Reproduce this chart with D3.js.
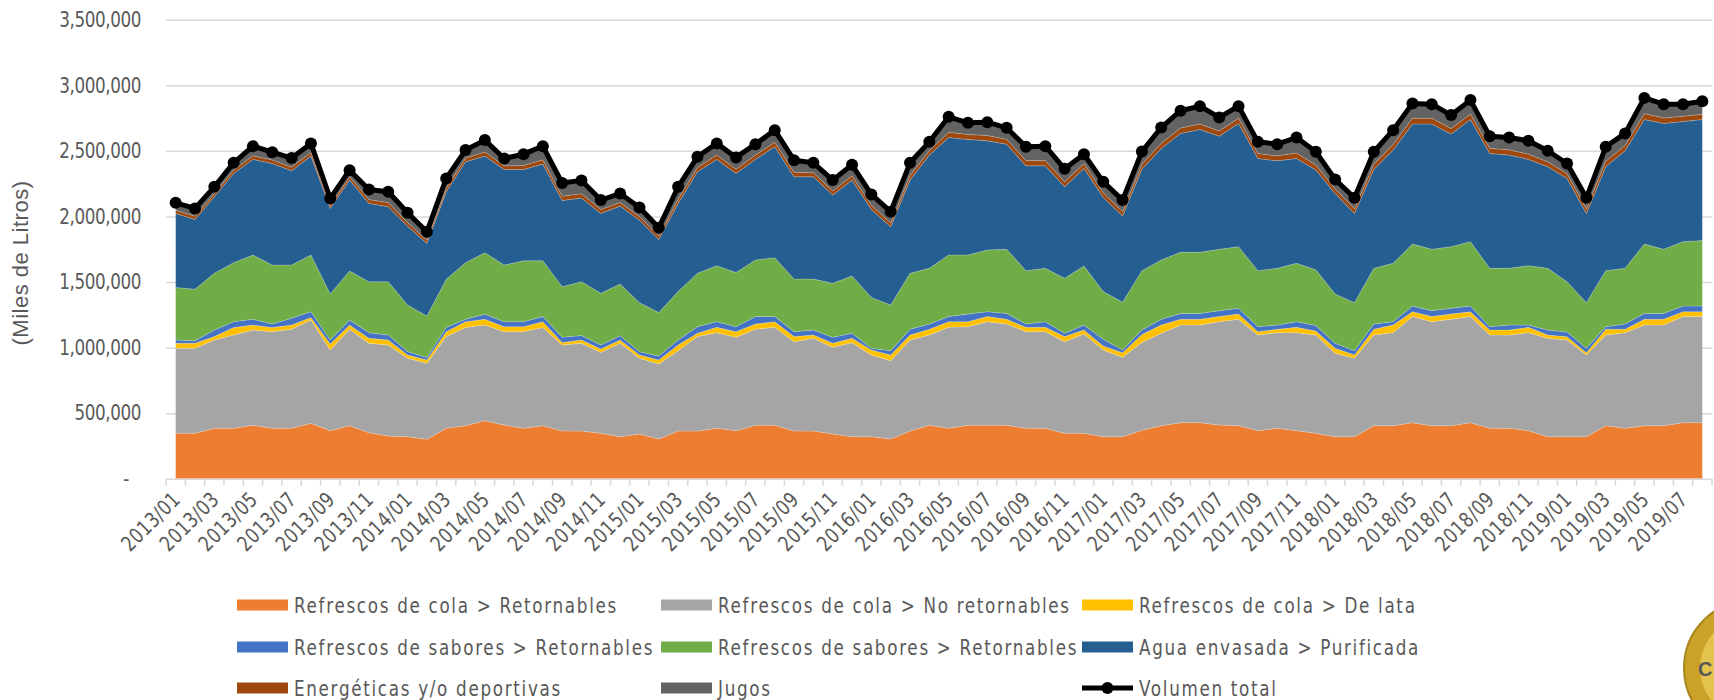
<!DOCTYPE html>
<html>
<head>
<meta charset="utf-8">
<script src="https://cdn.jsdelivr.net/npm/d3@7"></script>
<style>
  body { margin: 0; background: #fff; }
  svg { display: block; }
  text { font-family: "Liberation Sans Narrow", "DejaVu Sans", sans-serif; fill: #595959; }
</style>
</head>
<body>
<svg id="chart" width="1714" height="700"></svg>
<script>
// categories (monthly, 2013/01 .. 2019/08)
const months = [
  "2013/01","2013/02","2013/03","2013/04","2013/05","2013/06","2013/07","2013/08","2013/09","2013/10","2013/11","2013/12",
  "2014/01","2014/02","2014/03","2014/04","2014/05","2014/06","2014/07","2014/08","2014/09","2014/10","2014/11","2014/12",
  "2015/01","2015/02","2015/03","2015/04","2015/05","2015/06","2015/07","2015/08","2015/09","2015/10","2015/11","2015/12",
  "2016/01","2016/02","2016/03","2016/04","2016/05","2016/06","2016/07","2016/08","2016/09","2016/10","2016/11","2016/12",
  "2017/01","2017/02","2017/03","2017/04","2017/05","2017/06","2017/07","2017/08","2017/09","2017/10","2017/11","2017/12",
  "2018/01","2018/02","2018/03","2018/04","2018/05","2018/06","2018/07","2018/08","2018/09","2018/10","2018/11","2018/12",
  "2019/01","2019/02","2019/03","2019/04","2019/05","2019/06","2019/07","2019/08"
];

// series values, in thousands of "miles de litros"
const colaRetornables = [
  347,347,385,385,408,385,385,423,367,405,352,326,
  321,301,385,405,443,410,385,405,365,364,347,321,
  342,303,364,364,385,367,408,408,364,364,342,321,
  321,303,364,408,385,408,408,408,385,385,347,347,
  321,321,370,405,428,428,410,405,367,385,367,347,
  321,321,405,405,428,405,405,428,385,385,367,321,
  321,321,405,385,405,405,428,428
];
const colaNoRetornables = [
  648,648,673,712,726,737,755,788,615,735,681,694,
  598,579,699,749,729,712,737,749,655,669,616,712,
  577,572,613,720,729,712,732,747,681,707,660,717,
  623,597,694,688,770,752,790,772,737,737,698,757,
  661,605,670,704,744,744,788,811,729,729,747,749,
  636,598,691,709,809,793,811,809,711,711,747,750,
  737,623,691,729,767,767,809,809
];
const colaLata = [
  38,38,26,57,38,32,32,19,46,32,38,38,
  25,26,38,44,44,38,38,44,20,25,27,25,
  25,31,43,25,41,43,40,43,39,25,31,33,
  38,44,38,44,43,38,39,36,33,33,39,30,
  30,35,60,63,44,44,39,40,26,26,41,30,
  38,25,44,58,37,39,40,37,38,38,41,25,
  25,17,44,26,44,44,37,37
];
const saboresRetornables = [
  25,19,50,44,44,27,52,44,30,39,43,39,
  26,19,32,18,39,38,38,39,40,34,30,33,
  25,30,38,51,43,38,57,39,38,38,46,38,
  13,33,44,40,39,58,37,45,25,43,25,38,
  51,21,35,44,45,45,45,44,38,32,43,42,
  38,33,40,26,43,45,44,43,26,38,17,38,
  36,34,20,40,45,45,43,43
];
const saboresRetornables2 = [
  401,393,433,450,490,449,406,432,351,373,389,406,
  355,316,367,432,469,432,464,425,385,411,394,394,
  374,331,369,407,427,412,431,449,401,389,411,437,
  388,348,427,425,469,450,471,489,407,407,419,450,
  364,363,452,452,466,466,468,470,427,433,445,425,
  376,366,425,445,473,468,470,491,445,433,453,471,
  384,348,427,425,529,489,491,499
];
const aguaPurificada = [
  564,532,583,680,729,774,718,754,652,693,596,571,
  601,553,667,769,736,728,696,737,657,637,609,594,
  629,558,672,774,810,756,767,845,779,779,673,731,
  670,596,710,863,896,881,832,801,799,781,698,744,
  718,658,773,850,906,936,862,939,855,819,799,761,
  766,680,753,863,914,954,858,931,875,863,810,774,
  787,680,792,896,949,959,916,923
];
const energeticas = [
  25,25,24,25,28,27,27,28,22,26,30,32,
  28,24,28,27,32,28,30,33,33,33,30,28,
  27,25,32,32,33,32,33,35,35,32,32,33,
  32,30,35,33,40,38,40,38,40,40,38,35,
  35,33,38,40,42,42,40,40,38,38,42,38,
  35,35,40,42,45,45,42,42,40,40,40,38,
  36,36,42,40,45,42,40,40
];
const jugos = [
  56,59,52,56,73,59,70,69,54,50,77,82,
  74,65,74,62,90,56,87,104,100,102,72,68,
  70,64,95,82,89,90,83,92,92,75,82,84,
  83,85,97,68,118,89,102,87,105,110,99,74,
  84,89,97,120,131,136,103,92,89,89,118,89,
  72,84,95,110,113,107,103,106,92,94,102,84,
  78,83,110,92,120,105,92,100
];
const volumenTotal = [
  2104,2061,2226,2409,2536,2490,2445,2557,2137,2353,2206,2188,
  2028,1883,2290,2506,2582,2442,2475,2536,2255,2275,2125,2175,
  2069,1914,2226,2455,2557,2450,2551,2658,2429,2409,2277,2394,
  2168,2036,2409,2569,2760,2714,2719,2676,2531,2536,2363,2475,
  2264,2125,2495,2678,2806,2841,2755,2841,2569,2551,2602,2493,
  2282,2142,2493,2658,2862,2856,2773,2887,2612,2602,2577,2501,
  2404,2142,2531,2633,2904,2856,2856,2879
];

const seriesNames = [
  "Refrescos de cola > Retornables",
  "Refrescos de cola > No retornables",
  "Refrescos de cola > De lata",
  "Refrescos de sabores > Retornables",
  "Refrescos de sabores > Retornables",
  "Agua envasada > Purificada",
  "Energéticas y/o deportivas",
  "Jugos"
];
const seriesData = [colaRetornables, colaNoRetornables, colaLata, saboresRetornables,
  saboresRetornables2, aguaPurificada, energeticas, jugos];
const seriesColors = ["#ED7D31", "#A5A5A5", "#FFC000", "#4472C4", "#70AD47", "#255E91", "#9E480E", "#636363"];
const totalName = "Volumen total";
const yTickValues = [0, 500000, 1000000, 1500000, 2000000, 2500000, 3000000, 3500000];
const UNIT = 1000;

const svg = d3.select('#chart');
const plotLeft = 166, plotRight = 1712, plotTop = 19.7, plotBottom = 478.8;
const SQUEEZE = 0.8;   // narrow lettering, like the original condensed font

// squeeze text horizontally, keeping its x anchor in place
function condense(sel) {
  sel.each(function() {
    let t = d3.select(this);
    let x0 = +t.attr('x') || 0;
    t.attr('x', x0 / SQUEEZE);
    t.attr('transform', (t.attr('transform') || '') + ` scale(${SQUEEZE},1)`);
  });
}

let x = d3.scaleBand().domain(months).range([plotLeft, plotRight]);
let y = d3.scaleLinear().domain([0, 3500000]).range([plotBottom, plotTop]);
let cx = m => x(m) + x.bandwidth() / 2;

// gridlines + y labels
let yAxis = svg.append('g')
  .attr('transform', `translate(${plotLeft},0)`)
  .call(d3.axisLeft(y)
    .tickValues(yTickValues)
    .tickSize(-(plotRight - plotLeft))
    .tickPadding(25)
    .tickFormat(d => d === 0 ? '-' : d3.format(',')(d)));
yAxis.select('.domain').remove();
yAxis.selectAll('.tick line')
  .attr('stroke', '#d9d9d9')
  .attr('stroke-width', 1.5)
  .filter(d => d === 0).remove();
yAxis.selectAll('.tick text')
  .style('font-size', '21px')
  .style('letter-spacing', '-0.5px')
  .attr('fill', '#595959')
  .call(condense)
  .filter(d => d === 0).attr('dx', -15);

// stacked areas
let rows = months.map((m, i) => {
  let r = { month: m };
  seriesData.forEach((arr, k) => { r['s' + k] = arr[i] * UNIT; });
  return r;
});
let stacked = d3.stack().keys(seriesData.map((s, k) => 's' + k))(rows);

let area = d3.area()
  .x(d => cx(d.data.month))
  .y0(d => y(d[0]))
  .y1(d => y(d[1]));

svg.append('g').selectAll('path')
  .data(stacked)
  .enter().append('path')
  .attr('d', area)
  .attr('fill', (d, i) => seriesColors[i])
  .attr('stroke', '#ffffff')
  .attr('stroke-opacity', 0.3)
  .attr('stroke-width', 0.6);

// category axis
let xAxis = svg.append('g')
  .attr('transform', `translate(0,${plotBottom})`)
  .call(d3.axisBottom(x)
    .tickValues(months.filter((m, i) => i % 2 === 0))
    .tickSize(0)
    .tickSizeOuter(0));
xAxis.select('.domain')
  .attr('stroke', '#d9d9d9')
  .attr('stroke-width', 1.5);
xAxis.selectAll('.tick text')
  .attr('x', 0).attr('y', 0).attr('dy', null)
  .attr('text-anchor', 'end')
  .attr('transform', 'translate(6,22) rotate(-45)')
  .attr('fill', '#595959')
  .style('font-size', '21px')
  .style('letter-spacing', '0.6px')
  .call(condense);

// category tick marks between bands
svg.append('g').selectAll('line')
  .data(months.map(m => x(m)).concat([plotRight]))
  .enter().append('line')
  .attr('x1', d => d).attr('x2', d => d)
  .attr('y1', plotBottom).attr('y2', plotBottom + 7)
  .attr('stroke', '#d9d9d9')
  .attr('stroke-width', 1.5);

// total line with markers
let line = d3.line()
  .x((d, i) => cx(months[i]))
  .y(d => y(d * UNIT));

svg.append('path')
  .datum(volumenTotal)
  .attr('d', line)
  .attr('fill', 'none')
  .attr('stroke', '#000')
  .attr('stroke-width', 5)
  .attr('stroke-linejoin', 'round');

svg.append('g').selectAll('circle')
  .data(volumenTotal)
  .enter().append('circle')
  .attr('cx', (d, i) => cx(months[i]))
  .attr('cy', d => y(d * UNIT))
  .attr('r', 6)
  .attr('fill', '#000');

// y axis title
svg.append('text')
  .attr('transform', 'translate(28,263) rotate(-90)')
  .attr('text-anchor', 'middle')
  .style('font-family', '"Liberation Sans", "DejaVu Sans", sans-serif')
  .style('font-size', '22px')
  .style('letter-spacing', '0.5px')
  .text('(Miles de Litros)');

// legend
let colX = [237, 661, 1082];
let rowY = [605, 647, 688];
let legendItems = seriesNames.map((n, i) => ({ name: n, color: seriesColors[i], col: i % 3, row: Math.floor(i / 3) }));
legendItems.push({ name: totalName, color: '#000', col: 2, row: 2, line: true });

let legend = svg.append('g').selectAll('g')
  .data(legendItems)
  .enter().append('g')
  .attr('transform', d => `translate(${colX[d.col]},${rowY[d.row]})`);

legend.filter(d => !d.line).append('rect')
  .attr('x', 0).attr('y', -5.5)
  .attr('width', 51).attr('height', 11)
  .attr('fill', d => d.color);

legend.filter(d => d.line).append('line')
  .attr('x1', 0).attr('x2', 51)
  .attr('stroke', '#000').attr('stroke-width', 5);
legend.filter(d => d.line).append('circle')
  .attr('cx', 25.5).attr('r', 6).attr('fill', '#000');

legend.append('text')
  .attr('x', 57)
  .attr('dy', '0.36em')
  .style('font-size', '21px')
  .style('letter-spacing', '2.1px')
  .text(d => d.name)
  .call(condense);

// partial logo in the corner
let logo = svg.append('g');
logo.append('circle')
  .attr('cx', 1752).attr('cy', 668).attr('r', 68)
  .attr('fill', '#c9a227').attr('stroke', '#a8851a').attr('stroke-width', 2);
logo.append('circle')
  .attr('cx', 1752).attr('cy', 668).attr('r', 52)
  .attr('fill', '#e3c24d');
logo.append('text')
  .attr('x', 1698).attr('y', 676)
  .style('font-family', '"Liberation Sans", "DejaVu Sans", sans-serif')
  .style('font-weight', 'bold')
  .style('font-size', '20px')
  .attr('fill', '#1f3c88')
  .text('C');
</script>
</body>
</html>
